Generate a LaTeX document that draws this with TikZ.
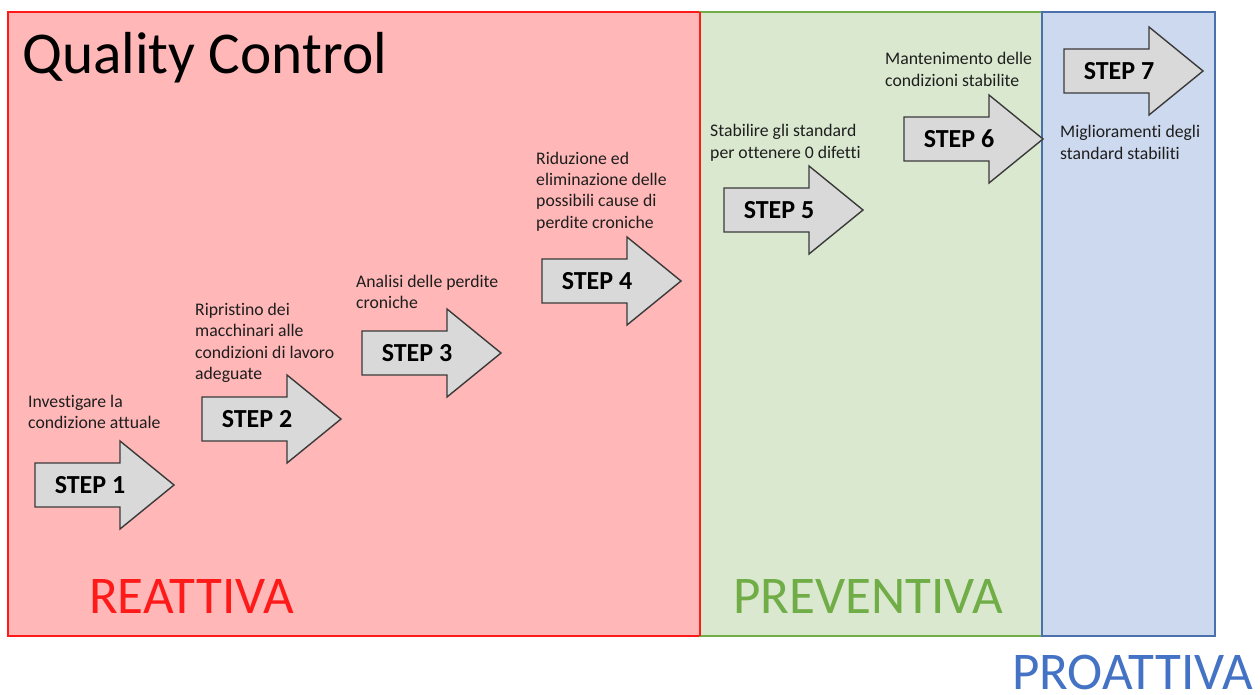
\documentclass[tikz,border=0pt]{standalone}
\usepackage{fontspec}
\setmainfont[Ligatures=NoCommon]{Carlito}
\definecolor{reactfill}{HTML}{FFB7B7}
\definecolor{reactline}{HTML}{FF1A1A}
\definecolor{prevfill}{HTML}{DAE8CF}
\definecolor{prevline}{HTML}{70AD47}
\definecolor{proafill}{HTML}{CDD9EE}
\definecolor{proaline}{HTML}{4A71AE}
\definecolor{proatext}{HTML}{4472C4}
\definecolor{arrowfill}{HTML}{D9D9D9}
\definecolor{arrowline}{HTML}{3A3A3A}
\definecolor{notegray}{HTML}{1E1E1E}
% block arrow: #1 name, #2 left edge of the shaft, #3 centre line, #4 step number
\newcommand\stepArrow[4]{%
  \draw[arrowshape] (#2,#3-22) -- ++(85,0) -- ++(0,-22) -- (#2+139,#3)
    -- (#2+85,#3+44) -- ++(0,-22) -- (#2,#3+22) -- cycle;
  \node[steptext] (#1) at (#2+55,#3) {STEP #4};}
\begin{document}
\begin{tikzpicture}[x=1pt,y=-1pt,
  zone/.style={line width=1.5pt},
  arrowshape/.style={fill=arrowfill, draw=arrowline, line width=1.4pt, line join=miter},
  steptext/.style={font=\fontsize{26}{30}\selectfont\bfseries, inner sep=0pt, text=black},
  % the base anchor of a multi-line note sits on its last line
  note/.style={font=\fontsize{17.7}{21.5}\selectfont, align=left, anchor=base west, inner sep=0pt, text=notegray},
  phase/.style={font=\fontsize{53}{62}\selectfont, anchor=base west, inner sep=0pt}]
  \useasboundingbox[fill=white] (0,0) rectangle (1260,695);

  % the three phases
  \draw[zone, fill=reactfill, draw=reactline] (8,12) rectangle (700,636);
  \draw[zone, fill=prevfill, draw=prevline] (700,12) rectangle (1042,636);
  \draw[zone, fill=proafill, draw=proaline] (1042,12) rectangle (1215,636);
  \draw[zone, draw=reactline] (700,12) -- (700,636);

  \node[font=\fontsize{59.3}{68}\selectfont, anchor=base west, inner sep=0pt] (title) at (22,74) {Quality Control};

  % steps
  \stepArrow{s1}{35}{485}{1}
  \stepArrow{s2}{202}{419}{2}
  \stepArrow{s3}{362}{353}{3}
  \stepArrow{s4}{542}{281}{4}
  \stepArrow{s5}{724}{210}{5}
  \stepArrow{s6}{904}{139}{6}
  \stepArrow{s7}{1064}{71}{7}

  % descriptions
  \node[note] (d1) at (28,428.5) {Investigare la\\condizione attuale};
  \node[note] (d2) at (195,379.5) {Ripristino dei\\macchinari alle\\condizioni di lavoro\\adeguate};
  \node[note] (d3) at (356,308.5) {Analisi delle perdite\\croniche};
  \node[note] (d4) at (536,228.5) {Riduzione ed\\eliminazione delle\\possibili cause di\\perdite croniche};
  \node[note] (d5) at (710,158.5) {Stabilire gli standard\\per ottenere 0 difetti};
  \node[note] (d6) at (885,86.5) {Mantenimento delle\\condizioni stabilite};
  \node[note] (d7) at (1060,159.5) {Miglioramenti degli\\standard stabiliti};

  % phase names
  \node[phase, text=reactline] (react) at (89,613) {REATTIVA};
  \node[phase, text=prevline] (prev) at (733,613) {PREVENTIVA};
  \node[phase, text=proatext] (proa) at (1012,689) {PROATTIVA};
\end{tikzpicture}
\end{document}
